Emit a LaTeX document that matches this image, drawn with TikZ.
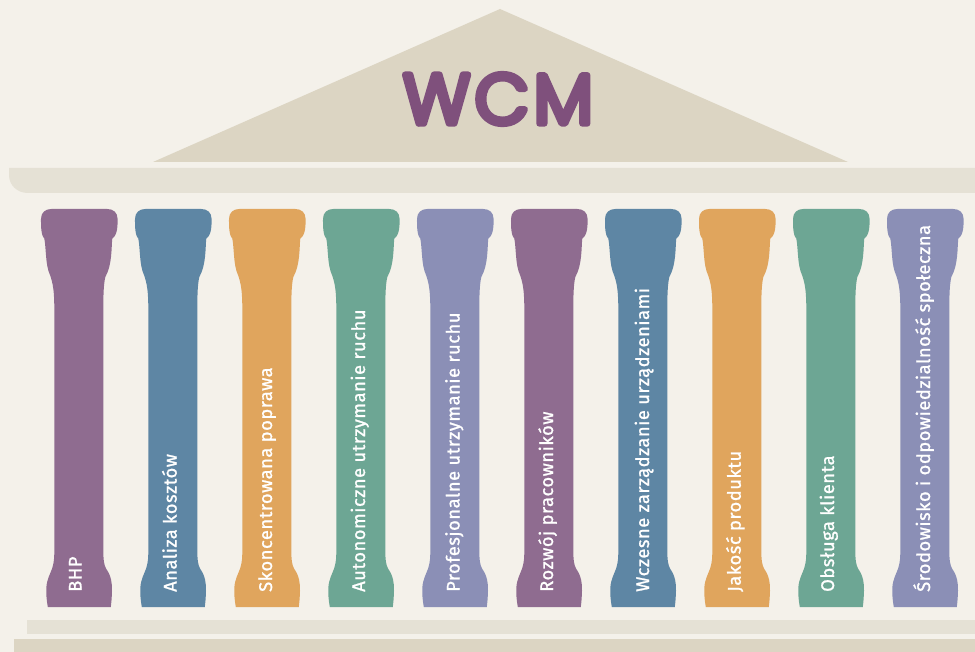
\documentclass[tikz,border=0pt]{standalone}
\usepackage{fontspec}
\setmainfont{Fira Sans}
\newfontfamily\wcmfont[FakeBold=9,UprightFont=* Light]{Poppins}
\newfontfamily\labelfont[FakeBold=1.2]{Fira Sans}
\definecolor{bgc}{HTML}{F4F1EA}
\definecolor{roofc}{HTML}{DCD5C3}
\definecolor{beamc}{HTML}{E5E1D5}
\definecolor{wcmc}{HTML}{7F507C}
\definecolor{cpurple}{HTML}{8F6C90}
\definecolor{cblue}{HTML}{5E86A4}
\definecolor{corange}{HTML}{E0A55D}
\definecolor{cgreen}{HTML}{6DA694}
\definecolor{cviolet}{HTML}{8B8FB6}
\tikzset{
  x=1pt,y=-1pt,
  columnlabel/.style={rotate=90,anchor=base west,text=white,font=\labelfont\fontsize{18.3pt}{20pt}\selectfont\addfontfeature{LetterSpace=3},inner sep=0pt},
  pics/pillar/.style={code={
    \fill[#1] (-38.3,10) .. controls (-38.3,3.5) and (-34,0) .. (-28,0) -- (28,0)
      .. controls (34,0) and (38.3,3.5) .. (38.3,10)
      .. controls (38.3,15) and (38.6,26) .. (33,29.5)
      .. controls (32,38) and (33,56) .. (26,68)
      .. controls (24.5,75) and (24,84) .. (24,100)
      -- (24,340)
      .. controls (24,350) and (24.5,356) .. (27,360)
      .. controls (32,367) and (33,375) .. (32.7,382)
      .. controls (32.5,389) and (32,394) .. (31.5,398)
      -- (-31.5,398)
      .. controls (-32.5,392) and (-33.3,386) .. (-33,379)
      .. controls (-32.5,370) and (-29,365) .. (-27,359)
      .. controls (-25,352) and (-25,348) .. (-25,340)
      -- (-25,100)
      .. controls (-25,84) and (-26,75) .. (-29.3,66)
      .. controls (-34,56) and (-33,40) .. (-35,29.5)
      .. controls (-38.6,26) and (-38.3,15) .. (-38.3,10) -- cycle;
  }}
}
\begin{document}
\begin{tikzpicture}
\useasboundingbox (0,0) rectangle (975,652);
\fill[bgc] (0,0) rectangle (975,652);
\fill[roofc] (153,162) -- (500,9) -- (848,162) -- cycle;
\fill[beamc] (9,168) -- (975,168) -- (975,193) -- (28,193) .. controls (17,193) and (9,185) .. (9,175) -- cycle;
\fill[beamc] (27,620) rectangle (975,634);
\fill[roofc] (14,639) rectangle (975,652);
\node[inner sep=0pt,text=wcmc,font=\wcmfont\fontsize{70pt}{70pt}\selectfont\addfontfeature{LetterSpace=7}] (wcm) at (498,99) {\special{pdf: code 1 j 1 J}WCM};
\foreach \n/\cx/\bx/\col/\txt in {
  a/79.3/81.5/cpurple/BHP,
  b/173.3/176.6/cblue/Analiza kosztów,
  c/267.3/272/corange/Skoncentrowana poprawa,
  d/361.3/365/cgreen/Autonomiczne utrzymanie ruchu,
  e/455.3/459.5/cviolet/Profesjonalne utrzymanie ruchu,
  f/549.3/553/cpurple/Rozwój pracowników,
  g/643.3/649/cblue/Wczesne zarządzanie urządzeniami,
  h/737.3/740.7/corange/Jakość produktu,
  i/831.3/834/cgreen/Obsługa klienta,
  j/925.3/930/cviolet/Środowisko i odpowiedzialność społeczna}{
  \pic at (\cx,209) {pillar=\col};
  \node[columnlabel] (t\n) at (\bx,592) {\txt};
}
\end{tikzpicture}
\end{document}
